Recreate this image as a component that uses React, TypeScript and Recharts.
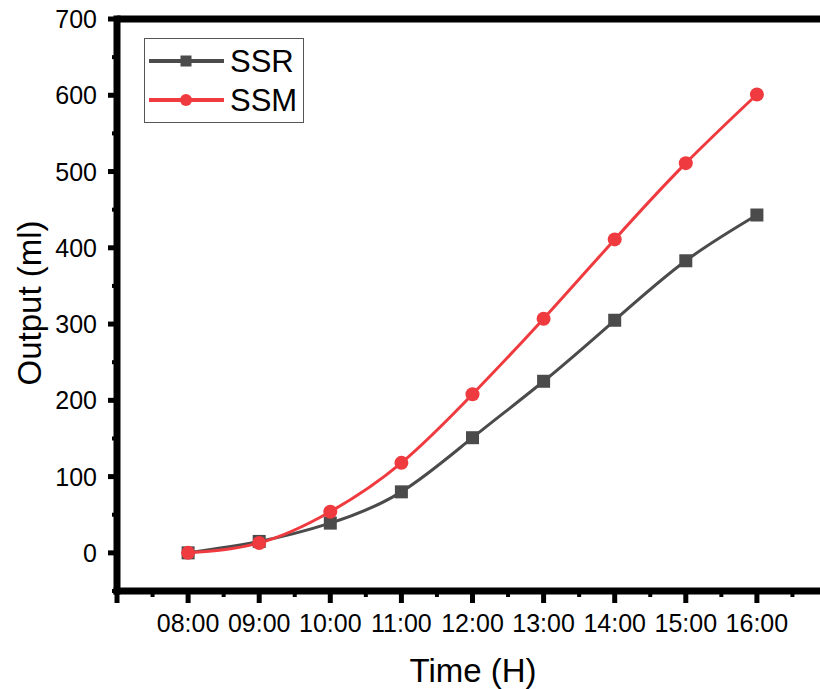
import React from "react";
import { LineChart, Line, XAxis, YAxis, ReferenceLine, Legend } from "recharts";

const categories = ["08:00", "09:00", "10:00", "11:00", "12:00", "13:00", "14:00", "15:00", "16:00"];
const ssrValues = [0, 15, 39, 80, 151, 225, 305, 383, 443];
const ssmValues = [0, 13, 54, 118, 208, 307, 411, 511, 601];
const xTicks = [7, 7.5, 8, 8.5, 9, 9.5, 10, 10.5, 11, 11.5, 12, 12.5, 13, 13.5, 14, 14.5, 15, 15.5, 16, 16.5, 17];
const yTicks = [-50, 0, 50, 100, 150, 200, 250, 300, 350, 400, 450, 500, 550, 600, 650, 700];
const yMajorLabels = [0, 100, 200, 300, 400, 500, 600, 700];

const data = categories.map((c, i) => ({ hour: 8 + i, label: c, SSR: ssrValues[i], SSM: ssmValues[i] }));

const FONT = "'Liberation Sans', Arial, sans-serif";
const GRAY = "#4b4b4b";
const RED = "#ef3b3f";

const XTick = (props: any) => {
  const { x, y, payload } = props;
  const v = payload.value as number;
  const major = Number.isInteger(v);
  const idx = v - 8;
  const label = major && idx >= 0 && idx < categories.length ? categories[idx] : null;
  return (
    <g>
      <line x1={x} x2={x} y1={y} y2={y + (major ? 12 : 6)} stroke="#000" strokeWidth={major ? 5 : 4} />
      {label && (
        <text x={x} y={y + 41} textAnchor="middle" fontSize={25} fontFamily={FONT} fill="#000">
          {label}
        </text>
      )}
    </g>
  );
};

const YTick = (props: any) => {
  const { x, y, payload } = props;
  const v = payload.value as number;
  const major = v % 100 === 0;
  return (
    <g>
      <line x1={x} x2={x - (major ? 9 : 5)} y1={y} y2={y} stroke="#000" strokeWidth={major ? 5 : 4} />
      {major && yMajorLabels.includes(v) && (
        <text x={x - 20} y={y + 9} textAnchor="end" fontSize={25} fontFamily={FONT} fill="#000">
          {v}
        </text>
      )}
    </g>
  );
};

const SquareDot = (props: any) => {
  const { cx, cy, index } = props;
  if (cx == null || cy == null) return <g key={index} />;
  return <rect key={index} x={cx - 6.5} y={cy - 6.5} width={13} height={13} fill={GRAY} />;
};

const CircleDot = (props: any) => {
  const { cx, cy, index } = props;
  if (cx == null || cy == null) return <g key={index} />;
  return <circle key={index} cx={cx} cy={cy} r={7} fill={RED} />;
};

const series = [
  { name: "SSR", color: GRAY, shape: "square" },
  { name: "SSM", color: RED, shape: "circle" },
];

const renderLegend = () => (
  <div
    style={{
      width: 158,
      height: 83,
      border: "1px solid #555",
      background: "#fff",
      boxSizing: "content-box",
    }}
  >
    <svg width={158} height={83}>
      {series.map((s, i) => {
        const cy = 22 + i * 39;
        return (
          <g key={s.name}>
            <line x1={4} x2={79} y1={cy} y2={cy} stroke={s.color} strokeWidth={4} />
            {s.shape === "square" ? (
              <rect x={41 - 5.5} y={cy - 5.5} width={11} height={11} fill={s.color} />
            ) : (
              <circle cx={41} cy={cy} r={6} fill={s.color} />
            )}
            <text x={85} y={cy + 11} fontSize={31} fontFamily={FONT} fill="#000">
              {s.name}
            </text>
          </g>
        );
      })}
    </svg>
  </div>
);

export default function App() {
  return (
    <div style={{ position: "fixed", left: 0, top: 0, width: 820, height: 689, overflow: "hidden", background: "#fff" }}>
      <LineChart width={840} height={689} data={data} margin={{ top: 19, right: 12, bottom: 0, left: 0 }}>
        <XAxis
          dataKey="hour"
          type="number"
          domain={[7, 17]}
          ticks={xTicks}
          interval={0}
          tickSize={0}
          tickMargin={0}
          tickLine={false}
          tick={<XTick />}
          height={98}
          axisLine={{ stroke: "#000", strokeWidth: 7, strokeLinecap: "square" }}
          label={() => (
            <text x={473} y={682} textAnchor="middle" fontSize={33} fontFamily={FONT} fill="#000">
              Time (H)
            </text>
          )}
        />
        <YAxis
          type="number"
          domain={[-50, 700]}
          ticks={yTicks}
          interval={0}
          tickSize={0}
          tickMargin={0}
          tickLine={false}
          tick={<YTick />}
          width={117}
          axisLine={{ stroke: "#000", strokeWidth: 7, strokeLinecap: "square" }}
          label={() => (
            <text
              x={41}
              y={303}
              textAnchor="middle"
              fontSize={33}
              fontFamily={FONT}
              fill="#000"
              transform="rotate(-90, 41, 303)"
            >
              Output (ml)
            </text>
          )}
        />
        <ReferenceLine y={700} stroke="#000" strokeWidth={7} />
        <Line
          type="natural"
          dataKey="SSR"
          stroke={GRAY}
          strokeWidth={3}
          dot={(p: any) => <SquareDot {...p} />}
          activeDot={false}
          isAnimationActive={false}
        />
        <Line
          type="natural"
          dataKey="SSM"
          stroke={RED}
          strokeWidth={3}
          dot={(p: any) => <CircleDot {...p} />}
          activeDot={false}
          isAnimationActive={false}
        />
        <Legend
          layout="vertical"
          align="center"
          verticalAlign="middle"
          content={renderLegend}
          wrapperStyle={{ position: "absolute", left: 144, top: 38, width: 160, height: 85 }}
        />
      </LineChart>
    </div>
  );
}
